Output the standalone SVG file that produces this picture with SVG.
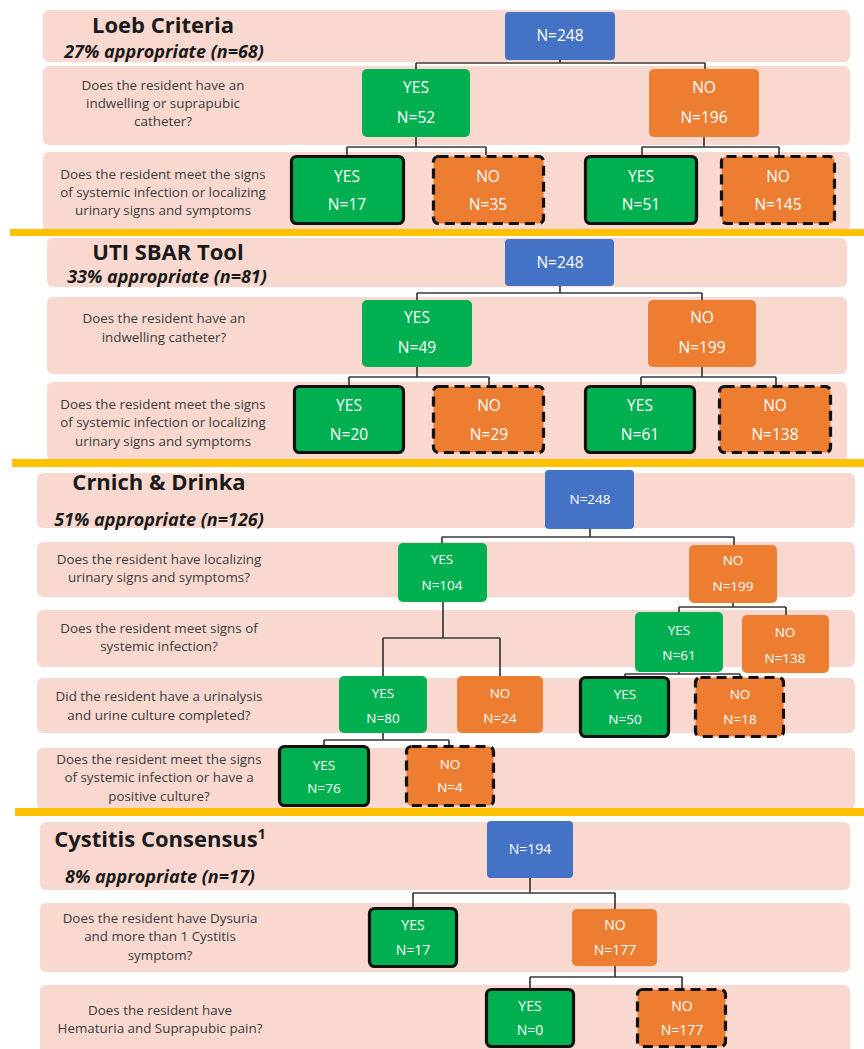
<svg xmlns="http://www.w3.org/2000/svg" width="864" height="1049" viewBox="0 0 864 1049">
<style>
.band{fill:#F8D8CF}
.sep{fill:#FFC000}
.blue{fill:#4472C4}
.g{fill:#00B050}
.o{fill:#ED7D31}
.solid{stroke:#111;stroke-width:3.2}
.dash{stroke:#111;stroke-width:3.2;stroke-dasharray:10 6}
.title{font-family:"Open Sans",sans-serif;font-weight:700;fill:#1a1a1a;text-anchor:middle}
.sub{font-family:"Open Sans",sans-serif;font-weight:700;font-style:italic;font-size:18px;fill:#1a1a1a;text-anchor:middle}
.q{font-family:"Open Sans",sans-serif;font-size:13.4px;fill:#3c3c3c;text-anchor:middle}
.lbl{font-family:"Open Sans",sans-serif;fill:#fff;text-anchor:middle}
.l16{font-size:15.5px}
.l13{font-size:13.5px}
.l14{font-size:14px}
.con{fill:none;stroke:#3a3a3a;stroke-width:1.7}
</style>
<rect width="864" height="1049" fill="#fff"/>
<g id="bands">
<rect class="band" x="43" y="10" width="807" height="52" rx="6"/>
<rect class="band" x="43" y="66" width="807" height="79" rx="6"/>
<rect class="band" x="43" y="152" width="807" height="80" rx="6"/>
<rect class="band" x="47" y="238" width="800" height="49" rx="6"/>
<rect class="band" x="47" y="297" width="800" height="77" rx="6"/>
<rect class="band" x="47" y="382" width="800" height="80" rx="6"/>
<rect class="band" x="37" y="473" width="818" height="55" rx="6"/>
<rect class="band" x="37" y="542" width="818" height="55" rx="6"/>
<rect class="band" x="37" y="610" width="818" height="57" rx="6"/>
<rect class="band" x="37" y="678" width="818" height="55" rx="6"/>
<rect class="band" x="37" y="748" width="818" height="62" rx="6"/>
<rect class="band" x="40" y="822" width="810" height="68" rx="6"/>
<rect class="band" x="40" y="903" width="810" height="69" rx="6"/>
<rect class="band" x="40" y="985" width="810" height="70" rx="6"/>
</g>
<g id="separators">
<rect class="sep" x="10" y="229" width="854" height="7"/>
<rect class="sep" x="12" y="459" width="852" height="8"/>
<rect class="sep" x="15" y="808" width="849" height="8"/>
</g>
<g id="labels">
<text class="title" x="163" y="33" font-size="22">Loeb Criteria</text>
<text class="sub" x="164" y="58">27% appropriate (n=68)</text>
<text class="q" x="163" y="90">Does the resident have an</text>
<text class="q" x="163" y="108">indwelling or suprapubic</text>
<text class="q" x="163" y="126">catheter?</text>
<text class="q" x="163" y="179">Does the resident meet the signs</text>
<text class="q" x="163" y="197">of systemic infection or localizing</text>
<text class="q" x="163" y="215">urinary signs and symptoms</text>

<text class="title" x="168" y="260" font-size="22">UTI SBAR Tool</text>
<text class="sub" x="167" y="283">33% appropriate (n=81)</text>
<text class="q" x="164" y="323">Does the resident have an</text>
<text class="q" x="164" y="342">indwelling catheter?</text>
<text class="q" x="163" y="409">Does the resident meet the signs</text>
<text class="q" x="163" y="427">of systemic infection or localizing</text>
<text class="q" x="163" y="446">urinary signs and symptoms</text>

<text class="title" x="159" y="490" font-size="22">Crnich &amp; Drinka</text>
<text class="sub" x="159" y="526">51% appropriate (n=126)</text>
<text class="q" x="159" y="564">Does the resident have localizing</text>
<text class="q" x="159" y="582">urinary signs and symptoms?</text>
<text class="q" x="159" y="633">Does the resident meet signs of</text>
<text class="q" x="159" y="651">systemic infection?</text>
<text class="q" x="159" y="701">Did the resident have a urinalysis</text>
<text class="q" x="159" y="720">and urine culture completed?</text>
<text class="q" x="159" y="764">Does the resident meet the signs</text>
<text class="q" x="159" y="782">of systemic infection or have a</text>
<text class="q" x="159" y="801">positive culture?</text>

<text class="title" x="160" y="847" font-size="22">Cystitis Consensus<tspan font-size="14" dy="-8">1</tspan></text>
<text class="sub" x="160" y="883">8% appropriate (n=17)</text>
<text class="q" x="160" y="923">Does the resident have Dysuria</text>
<text class="q" x="160" y="941">and more than 1 Cystitis</text>
<text class="q" x="160" y="960">symptom?</text>
<text class="q" x="160" y="1015">Does the resident have</text>
<text class="q" x="160" y="1033">Hematuria and Suprapubic pain?</text>
</g>
<g id="connectors">
<path class="con" d="M560 60V63M416 63H705M416 63V69M705 63V69"/>
<path class="con" d="M416 137V147M347 147H486M347 147V155M486 147V155"/>
<path class="con" d="M704 137V147M642 147H779M642 147V155M779 147V155"/>
<path class="con" d="M560 286V293M417 293H702M417 293V300M702 293V300"/>
<path class="con" d="M417 367V377M349 377H489M349 377V385M489 377V385"/>
<path class="con" d="M702 367V377M641 377H776M641 377V385M776 377V385"/>
<path class="con" d="M590 529V537M442 537H734M442 537V543M734 537V545"/>
<path class="con" d="M733 603V607M679 607H786M679 607V613M786 607V615"/>
<path class="con" d="M443 602V638M383 638H500M383 638V676M500 638V676"/>
<path class="con" d="M679 670V674M625 674H740M625 674V676M740 674V676"/>
<path class="con" d="M383 733V740M324 740H449M324 740V745M449 740V745"/>
<path class="con" d="M530 878V893M413 893H615M413 893V907M615 893V909"/>
<path class="con" d="M615 966V977M530 977H682M530 977V988M682 977V988"/>
</g>
<g id="n-loeb-root"><rect class="blue" x="505" y="12" width="110" height="48" rx="4"/><text class="lbl l16" x="560" y="41">N=248</text></g>
<g id="n-loeb-yes52"><rect class="g" x="362" y="69" width="108" height="68" rx="5"/><text class="lbl l16" x="416" y="93">YES</text><text class="lbl l16" x="416" y="123">N=52</text></g>
<g id="n-loeb-no196"><rect class="o" x="649" y="69" width="110" height="68" rx="5"/><text class="lbl l16" x="704" y="93">NO</text><text class="lbl l16" x="704" y="123">N=196</text></g>
<g id="n-loeb-yes17"><rect class="g solid" x="291.5" y="156.5" width="112" height="67" rx="5"/><text class="lbl l16" x="347" y="182">YES</text><text class="lbl l16" x="347" y="210">N=17</text></g>
<g id="n-loeb-no35"><rect class="o dash" x="433.5" y="156.5" width="110" height="67" rx="5"/><text class="lbl l16" x="488" y="182">NO</text><text class="lbl l16" x="488" y="210">N=35</text></g>
<g id="n-loeb-yes51"><rect class="g solid" x="585.5" y="156.5" width="111" height="67" rx="5"/><text class="lbl l16" x="641" y="182">YES</text><text class="lbl l16" x="641" y="210">N=51</text></g>
<g id="n-loeb-no145"><rect class="o dash" x="721.5" y="156.5" width="113" height="67" rx="5"/><text class="lbl l16" x="778" y="182">NO</text><text class="lbl l16" x="778" y="210">N=145</text></g>

<g id="n-sbar-root"><rect class="blue" x="505" y="239" width="109" height="47" rx="4"/><text class="lbl l16" x="560" y="268">N=248</text></g>
<g id="n-sbar-yes49"><rect class="g" x="362" y="300" width="110" height="67" rx="5"/><text class="lbl l16" x="417" y="323">YES</text><text class="lbl l16" x="417" y="353">N=49</text></g>
<g id="n-sbar-no199"><rect class="o" x="648" y="300" width="108" height="67" rx="5"/><text class="lbl l16" x="702" y="323">NO</text><text class="lbl l16" x="702" y="353">N=199</text></g>
<g id="n-sbar-yes20"><rect class="g solid" x="294.5" y="386.5" width="109" height="66" rx="5"/><text class="lbl l16" x="349" y="411">YES</text><text class="lbl l16" x="349" y="440">N=20</text></g>
<g id="n-sbar-no29"><rect class="o dash" x="433.5" y="386.5" width="110" height="66" rx="5"/><text class="lbl l16" x="489" y="411">NO</text><text class="lbl l16" x="489" y="440">N=29</text></g>
<g id="n-sbar-yes61"><rect class="g solid" x="585.5" y="386.5" width="109" height="66" rx="5"/><text class="lbl l16" x="640" y="411">YES</text><text class="lbl l16" x="640" y="440">N=61</text></g>
<g id="n-sbar-no138"><rect class="o dash" x="719.5" y="386.5" width="111" height="66" rx="5"/><text class="lbl l16" x="775" y="411">NO</text><text class="lbl l16" x="775" y="440">N=138</text></g>

<g id="n-cd-root"><rect class="blue" x="545" y="470" width="89" height="59" rx="4"/><text class="lbl l13" x="590" y="504">N=248</text></g>
<g id="n-cd-yes104"><rect class="g" x="398" y="543" width="89" height="59" rx="5"/><text class="lbl l13" x="442" y="564">YES</text><text class="lbl l13" x="442" y="590">N=104</text></g>
<g id="n-cd-no199"><rect class="o" x="689" y="545" width="88" height="58" rx="5"/><text class="lbl l13" x="733" y="565">NO</text><text class="lbl l13" x="733" y="591">N=199</text></g>
<g id="n-cd-yes61"><rect class="g" x="635" y="612" width="88" height="60" rx="5"/><text class="lbl l13" x="679" y="635">YES</text><text class="lbl l13" x="679" y="660">N=61</text></g>
<g id="n-cd-no138"><rect class="o" x="742" y="615" width="87" height="58" rx="5"/><text class="lbl l13" x="785" y="637">NO</text><text class="lbl l13" x="785" y="663">N=138</text></g>
<g id="n-cd-yes80"><rect class="g" x="339" y="676" width="88" height="57" rx="5"/><text class="lbl l13" x="383" y="698">YES</text><text class="lbl l13" x="383" y="723">N=80</text></g>
<g id="n-cd-no24"><rect class="o" x="457" y="676" width="86" height="57" rx="5"/><text class="lbl l13" x="500" y="698">NO</text><text class="lbl l13" x="500" y="723">N=24</text></g>
<g id="n-cd-yes50"><rect class="g solid" x="580.5" y="677.5" width="88" height="59" rx="5"/><text class="lbl l13" x="625" y="699">YES</text><text class="lbl l13" x="625" y="724">N=50</text></g>
<g id="n-cd-no18"><rect class="o dash" x="695.5" y="677.5" width="88" height="59" rx="5"/><text class="lbl l13" x="740" y="699">NO</text><text class="lbl l13" x="740" y="724">N=18</text></g>
<g id="n-cd-yes76"><rect class="g solid" x="279.5" y="746.5" width="89" height="59" rx="5"/><text class="lbl l13" x="324" y="770">YES</text><text class="lbl l13" x="324" y="793">N=76</text></g>
<g id="n-cd-no4"><rect class="o dash" x="406.5" y="746.5" width="87" height="59" rx="5"/><text class="lbl l13" x="450" y="769">NO</text><text class="lbl l13" x="450" y="792">N=4</text></g>

<g id="n-cy-root"><rect class="blue" x="487" y="821" width="86" height="57" rx="4"/><text class="lbl l14" x="530" y="854">N=194</text></g>
<g id="n-cy-yes17"><rect class="g solid" x="369.5" y="908.5" width="87" height="58" rx="5"/><text class="lbl l14" x="413" y="930">YES</text><text class="lbl l14" x="413" y="955">N=17</text></g>
<g id="n-cy-no177"><rect class="o" x="572" y="909" width="85" height="57" rx="5"/><text class="lbl l14" x="615" y="930">NO</text><text class="lbl l14" x="615" y="955">N=177</text></g>
<g id="n-cy-yes0"><rect class="g solid" x="486.5" y="989.5" width="87" height="57" rx="5"/><text class="lbl l14" x="530" y="1011">YES</text><text class="lbl l14" x="530" y="1035">N=0</text></g>
<g id="n-cy-no177b"><rect class="o dash" x="637.5" y="989.5" width="88" height="57" rx="5"/><text class="lbl l14" x="682" y="1011">NO</text><text class="lbl l14" x="682" y="1035">N=177</text></g>
</svg>
